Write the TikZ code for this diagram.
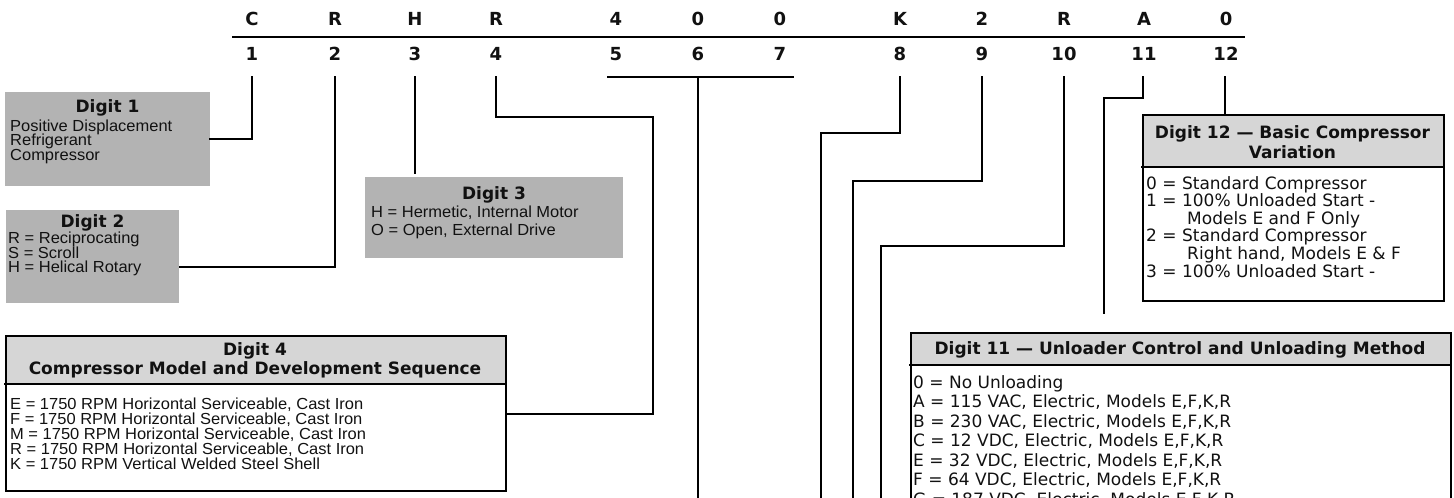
\documentclass[tikz,border=0pt]{standalone}
\usepackage{fontspec}
\setmainfont{DejaVu Sans}
\newfontfamily\helv[FakeStretch=1.03]{Liberation Sans}
\definecolor{boxgray}{HTML}{B3B3B3}
\definecolor{headgray}{HTML}{D6D6D6}
\definecolor{ink}{HTML}{111111}
\begin{document}
\begin{tikzpicture}[x=1pt,y=-1pt,
  conn/.style={line width=2pt, line cap=rect},
  rule/.style={line width=2.2pt},
  lett/.style={font=\fontsize{18}{18}\selectfont\bfseries, inner sep=0pt, anchor=base, text=ink},
  hd/.style={font=\fontsize{17}{18}\selectfont\bfseries, inner sep=0pt, anchor=base, text=ink},
  vt/.style={font=\fontsize{17}{18}\selectfont, inner sep=0pt, anchor=base west, text=ink},
  hv/.style={font=\helv\fontsize{16}{16}\selectfont, inner sep=0pt, anchor=base west, text=ink},
  gbox/.style={fill=boxgray, inner sep=0pt, anchor=north west},
  headband/.style={fill=headgray, inner sep=0pt, anchor=north west},
  frame/.style={draw=black, line width=2pt, inner sep=0pt, anchor=north west}
]
\useasboundingbox (0,0) rectangle (1454,498);
\clip (0,0) rectangle (1454,498);

% ---- code letters and digit numbers
\foreach \x/\c/\n [count=\i] in {252/C/1, 335/R/2, 415/H/3, 496/R/4, 616/4/5, 698/0/6, 780/0/7, 900/K/8, 982/2/9, 1064/R/10, 1144/A/11, 1226/0/12} {
  \node[lett] (l\i) at (\x,25) {\c};
  \node[lett] (n\i) at (\x,60) {\n};
}
\coordinate (rl) at (232,37);
\coordinate (rr) at (1245,37);
\draw[rule] (rl) -- (rr);

% ---- connector start points
\foreach \i/\x in {1/252, 2/335, 3/415, 4/496, 6/698, 8/900, 9/982, 10/1064, 11/1143, 12/1225}
  \coordinate (s\i) at (\x,77);

% ---- grey boxes
\node[gbox, minimum width=205, minimum height=94] (box1) at (5,92) {};
\node[hd] (d1) at (107.5,112) {Digit 1};
\node[hv] (t1a) at (10,131) {Positive Displacement};
\node[hv] (t1b) at (10,145.5) {Refrigerant};
\node[hv] (t1c) at (10,160) {Compressor};

\node[gbox, minimum width=173, minimum height=93] (box2) at (6,210) {};
\node[hd] (d2) at (92.5,227) {Digit 2};
\node[hv] (t2a) at (8,243.5) {R = Reciprocating};
\node[hv] (t2b) at (8,258) {S = Scroll};
\node[hv] (t2c) at (8,272.5) {H = Helical Rotary};

\node[gbox, minimum width=258, minimum height=81] (box3) at (365,177) {};
\node[hd] (d3) at (494,199) {Digit 3};
\node[hv] (t3a) at (371,217.5) {H = Hermetic, Internal Motor};
\node[hv] (t3b) at (371,235.5) {O = Open, External Drive};

% ---- Digit 4 box
\node[headband, minimum width=500, minimum height=49] (h4) at (5,335) {};
\node[frame, minimum width=500, minimum height=155] (box4) at (5,335) {};
\draw[conn] (h4.south west) -- (h4.south east);
\node[hd] (d4a) at (255,355) {Digit 4};
\node[hd] (d4b) at (255,374) {Compressor Model and Development Sequence};
\node[hv] (t4a) at (10,409.5) {E = 1750 RPM Horizontal Serviceable, Cast Iron};
\node[hv] (t4b) at (10,424.5) {F = 1750 RPM Horizontal Serviceable, Cast Iron};
\node[hv] (t4c) at (10,439.5) {M = 1750 RPM Horizontal Serviceable, Cast Iron};
\node[hv] (t4d) at (10,454.5) {R = 1750 RPM Horizontal Serviceable, Cast Iron};
\node[hv] (t4e) at (10,469.5) {K = 1750 RPM Vertical Welded Steel Shell};

% ---- Digit 12 box
\node[headband, minimum width=301, minimum height=53] (h12) at (1142,114) {};
\node[frame, minimum width=301, minimum height=186] (box12) at (1142,114) {};
\draw[conn] (h12.south west) -- (h12.south east);
\node[hd] (d12a) at (1292.5,138) {Digit 12 — Basic Compressor};
\node[hd] (d12b) at (1292.5,158) {Variation};
\node[vt] (t12a) at (1146,189) {0 = Standard Compressor};
\node[vt] (t12b) at (1146,206.6) {1 = 100\% Unloaded Start -};
\node[vt] (t12c) at (1187,224.2) {Models E and F Only};
\node[vt] (t12d) at (1146,241.8) {2 = Standard Compressor};
\node[vt] (t12e) at (1187,259.4) {Right hand, Models E \& F};
\node[vt] (t12f) at (1146,277) {3 = 100\% Unloaded Start -};

% ---- Digit 11 box
\node[headband, minimum width=540, minimum height=33] (h11) at (910,332) {};
\node[frame, minimum width=540, minimum height=220] (box11) at (910,332) {};
\draw[conn] (h11.south west) -- (h11.south east);
\node[hd] (d11) at (1180,354) {Digit 11 — Unloader Control and Unloading Method};
\node[vt] (t11a) at (913,388) {0 = No Unloading};
\node[vt] (t11b) at (913,407.5) {A = 115 VAC, Electric, Models E,F,K,R};
\node[vt] (t11c) at (913,427) {B = 230 VAC, Electric, Models E,F,K,R};
\node[vt] (t11d) at (913,446.5) {C = 12 VDC, Electric, Models E,F,K,R};
\node[vt] (t11e) at (913,466) {E = 32 VDC, Electric, Models E,F,K,R};
\node[vt] (t11f) at (913,485.5) {F = 64 VDC, Electric, Models E,F,K,R};
\node[vt] (t11g) at (913,505) {G = 187 VDC, Electric, Models E,F,K,R};

% ---- connectors
\draw[conn] (s1) |- (box1.east);
\coordinate (e2) at (180,267);
\draw[conn] (s2) |- (e2);
\draw[conn, shorten >=4pt] (s3) -- (box3.north -| s3);
\coordinate (k4) at (653,117);
\draw[conn] (s4) |- (k4) |- (box4.east);
\coordinate (b5) at (608,77);
\coordinate (b7) at (793,77);
\coordinate (e6) at (698,505);
\draw[conn] (b5) -- (b7);
\draw[conn] (s6) -- (e6);
\coordinate (k8) at (821,133);
\coordinate (e8) at (821,505);
\draw[conn] (s8) |- (k8) -- (e8);
\coordinate (k9) at (853,181);
\coordinate (e9) at (853,505);
\draw[conn] (s9) |- (k9) -- (e9);
\coordinate (k10) at (881,246);
\coordinate (e10) at (881,505);
\draw[conn] (s10) |- (k10) -- (e10);
\coordinate (k11) at (1104,98);
\coordinate (e11) at (1104,313);
\draw[conn] (s11) |- (k11) -- (e11);
\draw[conn] (s12) -- (s12 |- box12.north);
\end{tikzpicture}
\end{document}
